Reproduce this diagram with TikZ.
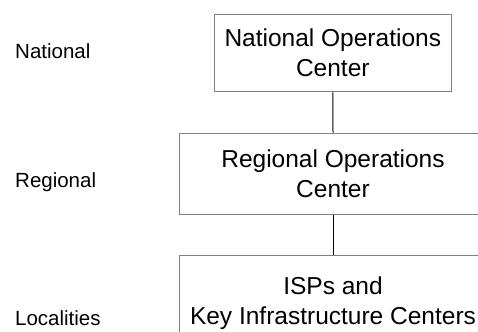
\documentclass[tikz,border=0pt]{standalone}
\usepackage{fontspec}
\setmainfont{Liberation Sans}
\begin{document}
\begin{tikzpicture}[x=1bp,y=-1bp,
  levelbox/.style={draw=black!50, line width=1bp, rectangle, inner sep=0pt, align=center,
    font=\fontsize{24.5bp}{30bp}\selectfont},
  levellabel/.style={anchor=base west, inner sep=0pt, font=\fontsize{20.5bp}{24bp}\selectfont},
  conn/.style={draw=black, line width=1bp}]
\useasboundingbox (0,0) rectangle (478,331);
\clip (0,0) rectangle (478,331);
\node[levelbox, minimum width=236.5bp, minimum height=77.5bp] (nat) at (332.8,53.2) {National Operations\\Center};
\node[levelbox, minimum width=308bp, minimum height=81bp] (reg) at (333,173.5) {Regional Operations\\Center};
\node[levelbox, minimum width=308bp, minimum height=96bp] (isp) at (333,303) {ISPs and\\Key Infrastructure Centers};
\node[levellabel] (lnat) at (15,58.3) {National};
\node[levellabel] (lreg) at (15,187) {Regional};
\node[levellabel] (lloc) at (15,325) {Localities};
\draw[conn] (nat.south) -- (reg.north);
\draw[conn] (reg.south) -- (isp.north);
\end{tikzpicture}
\end{document}
